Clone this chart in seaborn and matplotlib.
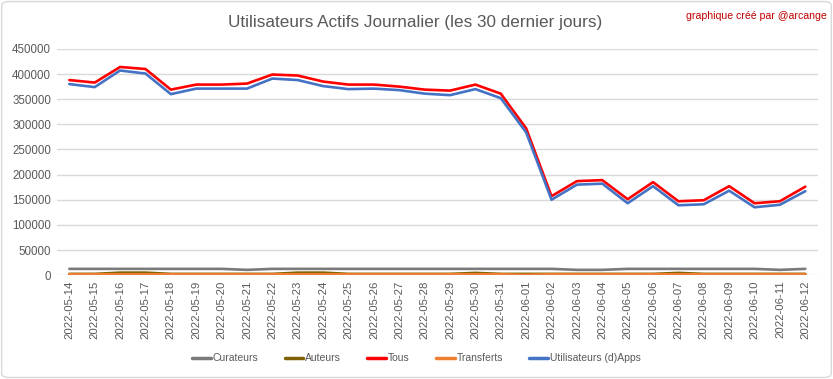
import matplotlib
matplotlib.use("Agg")
import matplotlib.pyplot as plt
import seaborn as sns
import pandas as pd
from matplotlib.patches import FancyBboxPatch
from matplotlib.lines import Line2D

dates = ["2022-05-14", "2022-05-15", "2022-05-16", "2022-05-17", "2022-05-18", "2022-05-19",
         "2022-05-20", "2022-05-21", "2022-05-22", "2022-05-23", "2022-05-24", "2022-05-25",
         "2022-05-26", "2022-05-27", "2022-05-28", "2022-05-29", "2022-05-30", "2022-05-31",
         "2022-06-01", "2022-06-02", "2022-06-03", "2022-06-04", "2022-06-05", "2022-06-06",
         "2022-06-07", "2022-06-08", "2022-06-09", "2022-06-10", "2022-06-11", "2022-06-12"]

curateurs = [12500, 12500, 12500, 12500, 12500, 12500, 12500, 10500, 12500, 12500, 12500, 12500,
             12500, 12500, 12500, 12500, 12500, 12500, 12500, 12500, 10500, 10500, 12500, 12500,
             12500, 12500, 12500, 12500, 10500, 12500]
auteurs = [2500, 2500, 5000, 5000, 2500, 2500, 2500, 2500, 2500, 5000, 5000, 2500,
           2500, 2500, 2500, 2500, 4500, 2500, 2500, 2500, 2500, 2500, 2500, 2500,
           4500, 2500, 2500, 2500, 2500, 2500]
tous = [388000, 383000, 414000, 410000, 369000, 379000, 379000, 381000, 399000, 397000, 385000, 379000,
        379000, 375000, 369000, 367000, 379000, 361000, 292000, 157000, 187000, 189000, 151000, 185000,
        147000, 149000, 177000, 143000, 147000, 176000]
transferts = [1800, 1800, 1800, 1800, 1800, 1800, 1800, 1800, 1800, 1800, 1800, 1800,
              1800, 1800, 1800, 1800, 1800, 1800, 500, 1800, 1800, 1800, 1800, 1800,
              1800, 1800, 1800, 1800, 1800, 1800]
dapps = [380000, 374000, 407000, 401000, 360000, 371000, 371000, 371000, 391000, 388000, 376000, 370000,
         371000, 368000, 361000, 358000, 370000, 352000, 284000, 150000, 180000, 182000, 143000, 177000,
         139000, 141000, 168000, 135000, 140000, 167000]

series_names = ["Curateurs", "Auteurs", "Tous", "Transferts", "Utilisateurs (d)Apps"]
series_values = [curateurs, auteurs, tous, transferts, dapps]
colors = ["#7a7a7a", "#7f6000", "#ff0000", "#ed7d31", "#4472c4"]

rows = []
for name, vals in zip(series_names, series_values):
    for i, (d, v) in enumerate(zip(dates, vals)):
        rows.append({"idx": i, "date": d, "serie": name, "valeur": v})
df = pd.DataFrame(rows)

sns.set_theme(style="white")
plt.rcParams['font.family'] = ['Liberation Sans', 'DejaVu Sans']

fig = plt.figure(figsize=(8.33, 3.79), dpi=100)
ax = fig.add_axes([0.068, 0.274, 0.914, 0.597])

sns.lineplot(data=df, x="idx", y="valeur", hue="serie", hue_order=series_names,
             palette=dict(zip(series_names, colors)), linewidth=1.9, ax=ax, legend=False)

ax.set_xlim(-0.5, len(dates) - 0.5)
ax.set_ylim(0, 450000)
ax.set_yticks(range(0, 450001, 50000))
ax.set_yticklabels([str(v) for v in range(0, 450001, 50000)], fontsize=8.3, color="#595959")
ax.set_xticks(range(len(dates)))
ax.set_xticklabels(dates, rotation=90, fontsize=8.2, color="#595959")
ax.yaxis.grid(True, color="#d9d9d9", linewidth=1)
ax.xaxis.grid(False)
for s in ax.spines.values():
    s.set_visible(False)
ax.tick_params(axis="both", length=0, pad=4)
ax.set_xlabel("")
ax.set_ylabel("")

fig.text(0.498, 0.94, "Utilisateurs Actifs Journalier (les 30 dernier jours)", ha="center", va="center",
         fontsize=12.3, color="#595959")
fig.text(0.992, 0.957, "graphique créé par @arcange", ha="right", va="center",
         fontsize=7.6, color="#c00000")

handles = [Line2D([0], [0], color=c, linewidth=2.5) for c in colors]
fig.legend(handles, series_names, loc="center", bbox_to_anchor=(0.5, 0.055), ncol=5,
           frameon=False, fontsize=7.5, handlelength=1.8, handletextpad=0.2, columnspacing=2.5,
           labelcolor="#595959")

border = FancyBboxPatch((0.002, 0.004), 0.996, 0.992, boxstyle="round,pad=0,rounding_size=0.01",
                        transform=fig.transFigure, fill=False, edgecolor="#d9d9d9", linewidth=1)
fig.patches.append(border)

fig.savefig("out.png", dpi=100)
